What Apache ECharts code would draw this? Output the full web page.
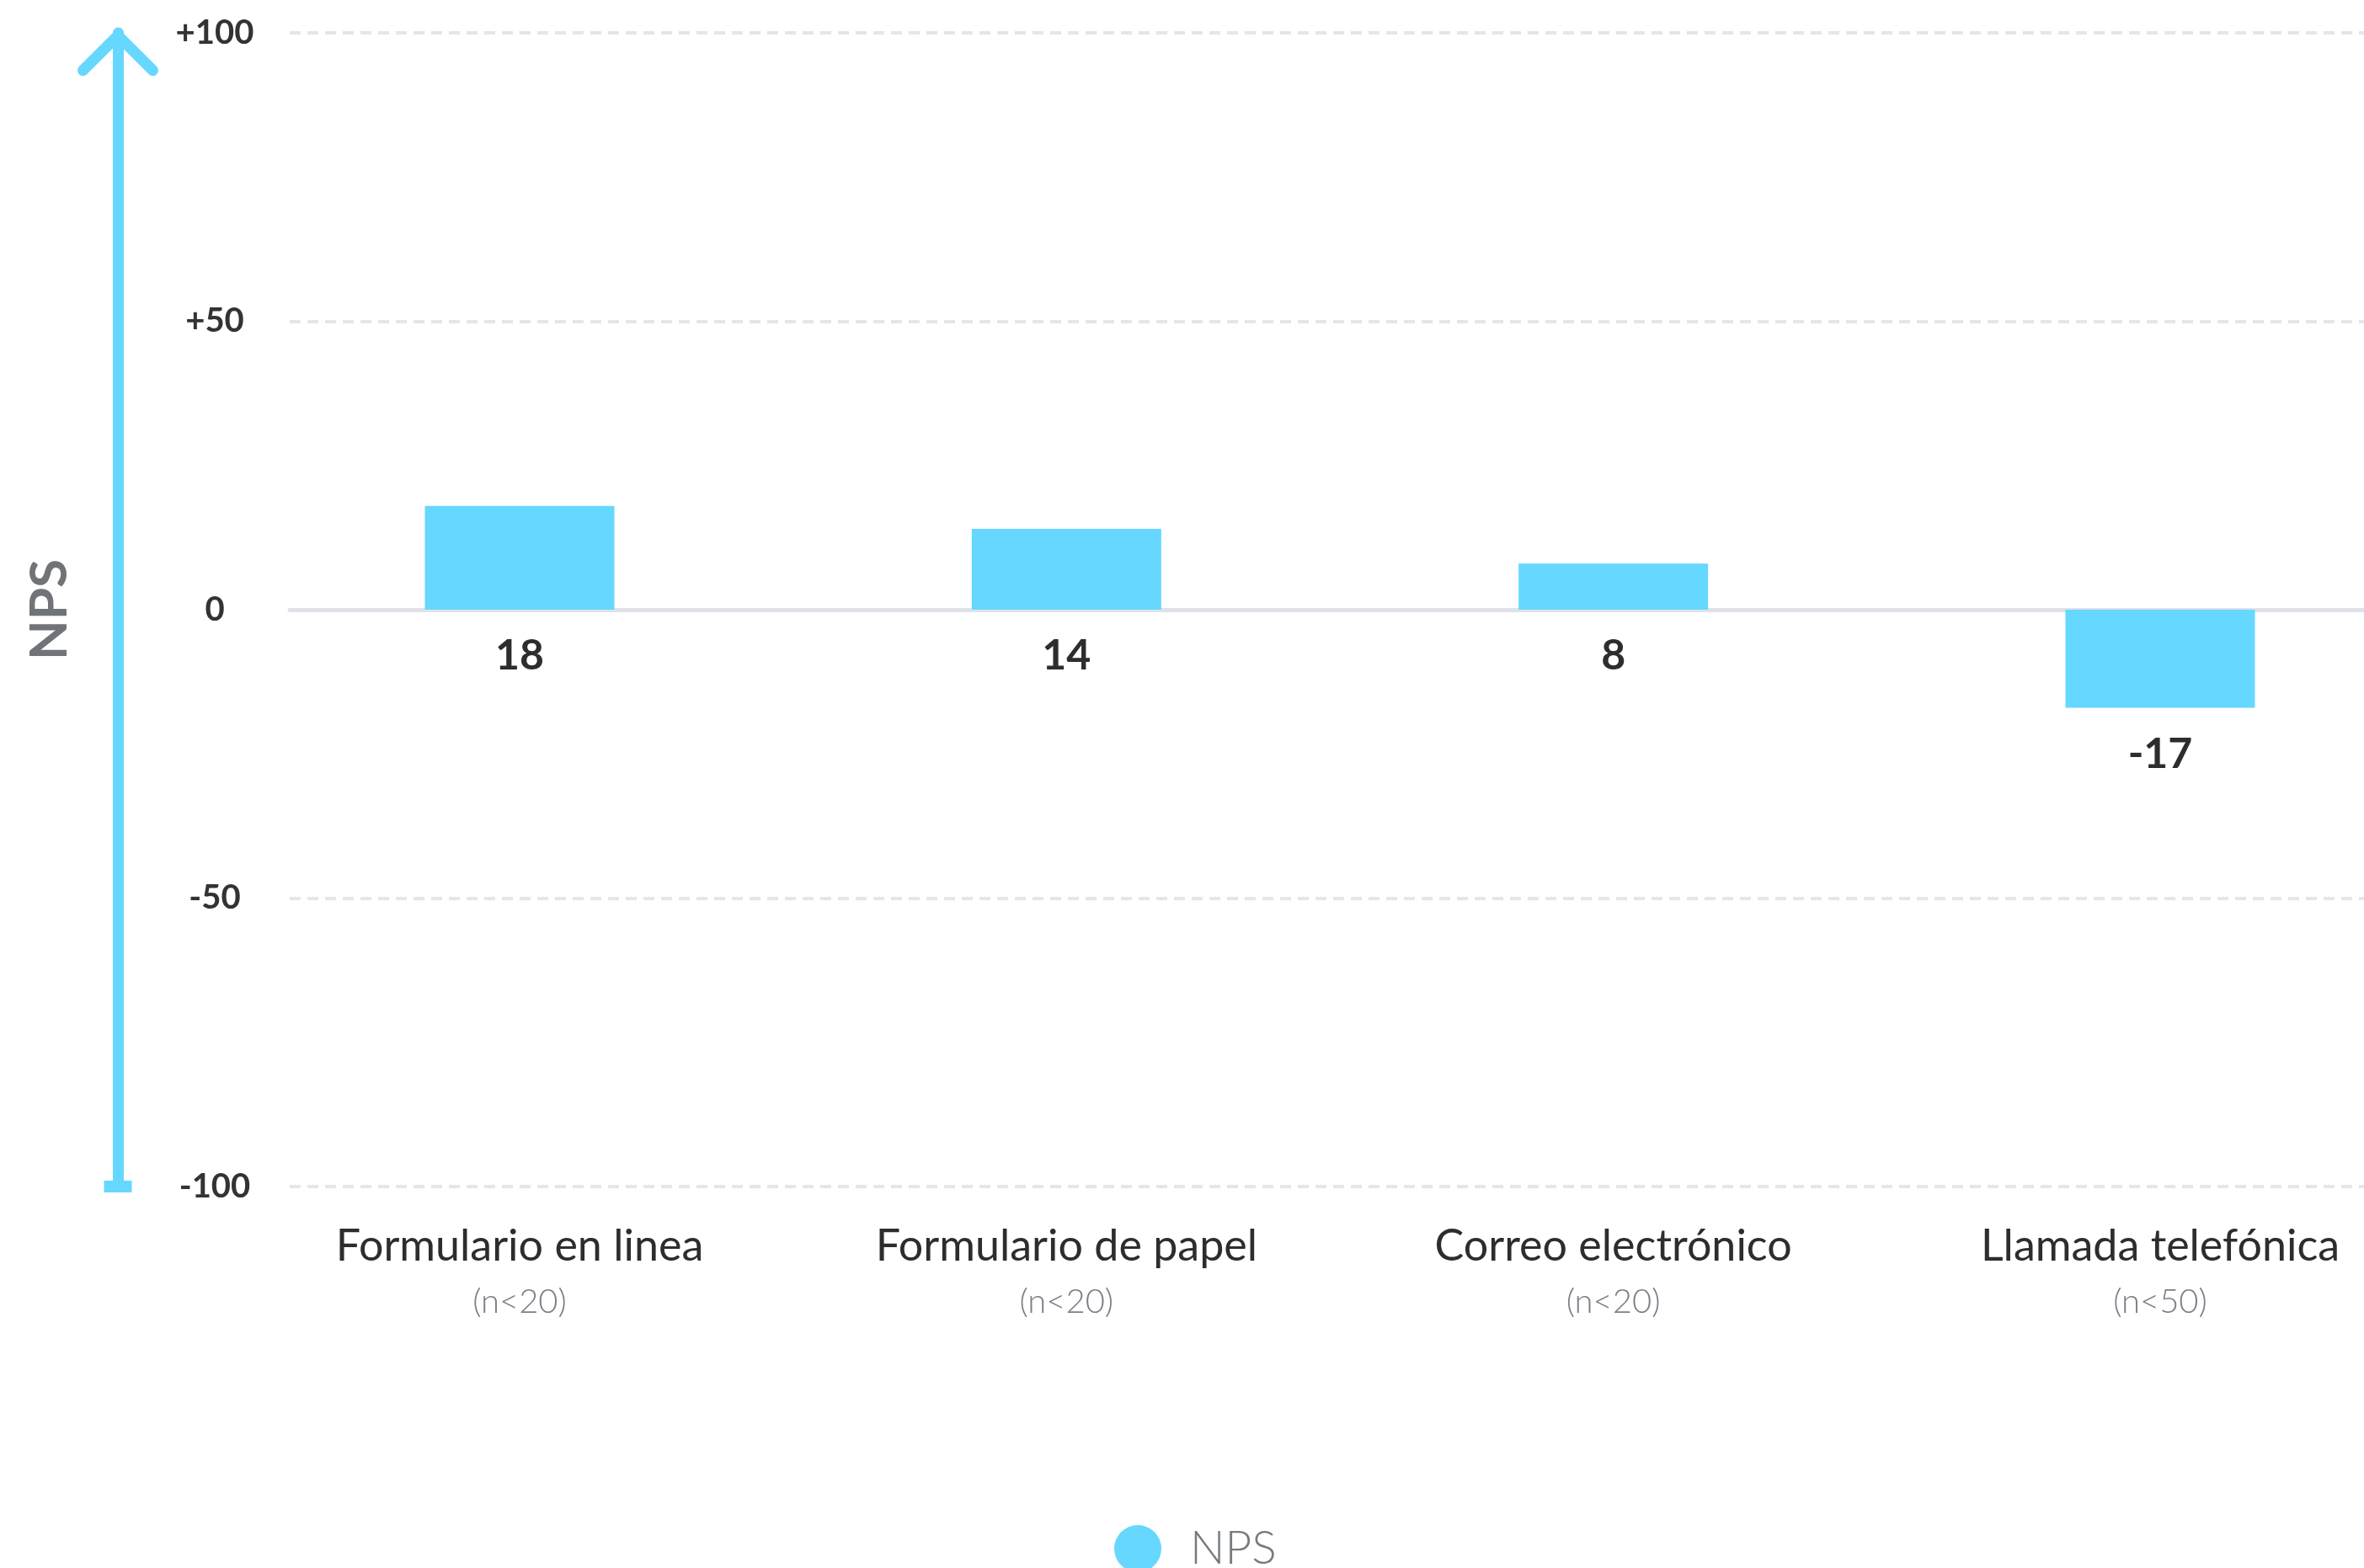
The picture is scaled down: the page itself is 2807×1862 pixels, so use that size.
<!DOCTYPE html>
<html>
<head>
<meta charset="utf-8">
<title>NPS por canal</title>
<script src="https://cdn.jsdelivr.net/npm/echarts@6/dist/echarts.min.js"></script>
<style>
  html, body { margin: 0; padding: 0; background: #ffffff; }
  #chart { width: 2807px; height: 1862px; }
</style>
</head>
<body>
<div id="chart"></div>
<script>
// Channels, sample-size notes and NPS score per channel
const categories = ['Formulario en linea', 'Formulario de papel', 'Correo electrónico', 'Llamada telefónica'];
const sampleNotes = ['(n<20)', '(n<20)', '(n<20)', '(n<50)'];
const npsValues = [18, 14, 8, -17];
const seriesName = 'NPS';

// Value scale and its tick labels
const yMin = -100;
const yMax = 100;
const yStep = 50;
const tickLabel = v => (v > 0 ? '+' + v : String(v));

const CYAN = '#66d7ff';
const FONT = 'Lato, "Open Sans", sans-serif';

// Open chevron drawn as a filled outline (tip on top), 96 x 57.2 box
const chevronPath = 'path://M48,0 L94.1,46.1 A6.5,6.5 0 0 1 84.9,55.3 L48,18.4 L11.1,55.3 A6.5,6.5 0 0 1 1.9,46.1 Z';
// Flat foot cap (33 x 14) centred in the same 96 x 57.2 box, so both ends share one symbolSize
const footPath = 'path://M0,0 M31.5,21.6 L64.5,21.6 L64.5,35.6 L31.5,35.6 Z M96,57.2';

const chart = echarts.init(document.getElementById('chart'), null, { renderer: 'canvas' });

const option = {
  backgroundColor: '#ffffff',
  animation: false,
  legend: {
    data: [seriesName],
    left: 1318,
    top: 1806,
    icon: 'circle',
    itemWidth: 56,
    itemHeight: 56,
    textStyle: {
      fontFamily: FONT,
      fontSize: 55,
      fontWeight: 300,
      color: '#777b80',
      padding: [0, 0, 0, 29]
    }
  },
  grid: [
    // reference lines and tick labels
    { left: 344, right: 0, top: 39, height: 1370 },
    // bars and category labels: first and last channel sit on the grid edges
    { left: 617, right: 242, top: 39, height: 1370 }
  ],
  xAxis: [
    {
      gridIndex: 0,
      type: 'value',
      min: 0,
      max: 1,
      axisLine: { show: true, onZero: true, lineStyle: { color: '#dfe3e8', width: 5 } },
      axisTick: { show: false },
      axisLabel: { show: false },
      splitLine: { show: false }
    },
    {
      gridIndex: 1,
      type: 'category',
      data: categories,
      boundaryGap: false,
      axisLine: { show: false },
      axisTick: { show: false },
      splitLine: { show: false },
      axisLabel: {
        margin: 38,
        interval: 0,
        formatter: (name, idx) => '{a|' + name + '}\n{b|' + sampleNotes[idx] + '}',
        rich: {
          a: { fontFamily: FONT, fontSize: 52, fontWeight: 400, color: '#2d2d2d', lineHeight: 66 },
          b: { fontFamily: FONT, fontSize: 40, fontWeight: 300, color: '#7b8087', lineHeight: 66 }
        }
      }
    }
  ],
  yAxis: [
    {
      gridIndex: 0,
      type: 'value',
      min: yMin,
      max: yMax,
      interval: yStep,
      axisLine: { show: false },
      axisTick: { show: false },
      axisLabel: {
        formatter: tickLabel,
        align: 'center',
        margin: 89,
        fontFamily: FONT,
        fontSize: 40,
        fontWeight: 700,
        color: '#333333'
      },
      splitLine: { show: true, lineStyle: { color: '#e3e6ea', width: 4, type: [13, 8] } }
    },
    {
      gridIndex: 0,
      type: 'value',
      min: yMin,
      max: yMax,
      interval: yStep,
      position: 'left',
      offset: 204,
      name: 'NPS',
      nameLocation: 'middle',
      nameRotate: 90,
      nameGap: 50,
      nameTextStyle: { fontFamily: FONT, fontSize: 62, fontWeight: 700, color: '#707378' },
      axisLine: {
        show: true,
        symbol: [footPath, chevronPath],
        symbolSize: [96, 57.2],
        symbolOffset: [0, -22.6],
        lineStyle: { color: CYAN, width: 13 }
      },
      axisTick: { show: false },
      axisLabel: { show: false },
      splitLine: { show: false }
    },
    {
      gridIndex: 1,
      type: 'value',
      min: yMin,
      max: yMax,
      interval: yStep,
      show: false
    }
  ],
  series: [
    {
      name: seriesName,
      type: 'bar',
      xAxisIndex: 1,
      yAxisIndex: 2,
      data: npsValues,
      barWidth: 225,
      itemStyle: { color: CYAN },
      label: {
        show: true,
        position: 'bottom',
        distance: 30,
        fontFamily: FONT,
        fontSize: 50,
        fontWeight: 700,
        color: '#2d2d2d'
      }
    }
  ]
};

chart.setOption(option);
</script>
</body>
</html>
